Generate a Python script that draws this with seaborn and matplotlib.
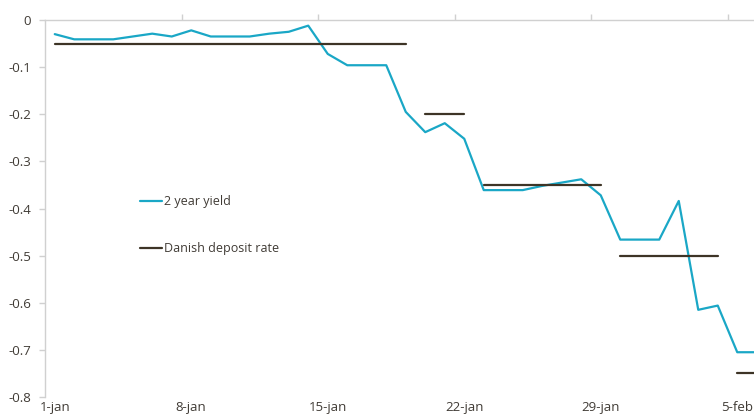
import numpy as np
import pandas as pd
import matplotlib
matplotlib.use("Agg")
import matplotlib.pyplot as plt
import seaborn as sns
from matplotlib.lines import Line2D

# ---- data ----
day_index = list(range(37))  # 1-jan ... 6-feb (last partly off-canvas)
yield_2y = [-0.030, -0.041, -0.041, -0.041, -0.035, -0.029, -0.035, -0.022,
            -0.035, -0.035, -0.035, -0.029, -0.025, -0.012, -0.072, -0.096,
            -0.096, -0.096, -0.195, -0.238, -0.219, -0.252, -0.361, -0.361,
            -0.361, -0.352, -0.345, -0.338, -0.372, -0.466, -0.466, -0.466,
            -0.384, -0.615, -0.606, -0.705, -0.705]
rate_start = [0, 19, 22, 29, 35]
rate_end = [18, 21, 28, 34, 36]
rate_value = [-0.05, -0.20, -0.35, -0.50, -0.75]
tick_days = [0, 7, 14, 21, 28, 35]
tick_labels = ["1-jan", "8-jan", "15-jan", "22-jan", "29-jan", "5-feb"]
ytick_vals = [0, -0.1, -0.2, -0.3, -0.4, -0.5, -0.6, -0.7, -0.8]
ytick_labels = ["0", "-0.1", "-0.2", "-0.3", "-0.4", "-0.5", "-0.6", "-0.7", "-0.8"]

yield_df = pd.DataFrame({"day": day_index, "value": yield_2y})
rows = []
for seg, (s, e, v) in enumerate(zip(rate_start, rate_end, rate_value)):
    for d in range(s, e + 1):
        rows.append({"day": d, "value": v, "seg": seg})
rate_df = pd.DataFrame(rows)

sns.set_theme(style="white")
plt.rcParams["font.family"] = ["Open Sans", "DejaVu Sans"]

CYAN = "#1aa7c6"
DARK = "#3d3426"
TXT = "#403b35"
SPINE = "#d0d0d0"

fig = plt.figure(figsize=(7.54, 4.16), dpi=100)
ax = fig.add_axes([45 / 754, 1 - 397 / 416, 1 - 45 / 754, (397 - 20) / 416])

sns.lineplot(data=yield_df, x="day", y="value", ax=ax, color=CYAN,
             linewidth=1.6, estimator=None, legend=False)
sns.lineplot(data=rate_df, x="day", y="value", units="seg", estimator=None,
             ax=ax, color=DARK, linewidth=1.6, legend=False)

ax.set_xlim(-0.5, (754 - 54.75) / 19.5)
ax.set_ylim(-0.8, 0)
ax.set_xlabel("")
ax.set_ylabel("")

# spines
for s in ["right", "bottom"]:
    ax.spines[s].set_visible(False)
for s in ["left", "top"]:
    ax.spines[s].set_color(SPINE)
    ax.spines[s].set_linewidth(1.0)

ax.set_yticks(ytick_vals)
ax.set_yticklabels(ytick_labels)
ax.tick_params(axis="y", which="major", left=True, length=4, width=1,
               color=SPINE, direction="out", labelsize=9.5, labelcolor=TXT, pad=6)

ax.set_xticks(tick_days)
ax.set_xticklabels(tick_labels)
ax.set_xticks([6.5, 13.5, 20.5, 27.5, 34.5], minor=True)
ax.tick_params(axis="x", which="major", bottom=False, top=False, length=0,
               labelbottom=True, labelsize=9.5, labelcolor=TXT, pad=3)
ax.tick_params(axis="x", which="minor", bottom=False, top=True, length=4,
               width=1, color=SPINE, direction="out", labelbottom=False)

handles = [Line2D([0], [0], color=CYAN, lw=1.6),
           Line2D([0], [0], color=DARK, lw=1.6)]
leg = fig.legend(handles, ["2 year yield", "Danish deposit rate"],
                 loc="upper left", bbox_to_anchor=(140 / 754, 1 - 195 / 416),
                 frameon=False, fontsize=9, handlelength=1.75,
                 handletextpad=0.15, labelspacing=2.75, borderpad=0,
                 borderaxespad=0)
for t in leg.get_texts():
    t.set_color(TXT)

fig.savefig("out.png", dpi=100)
